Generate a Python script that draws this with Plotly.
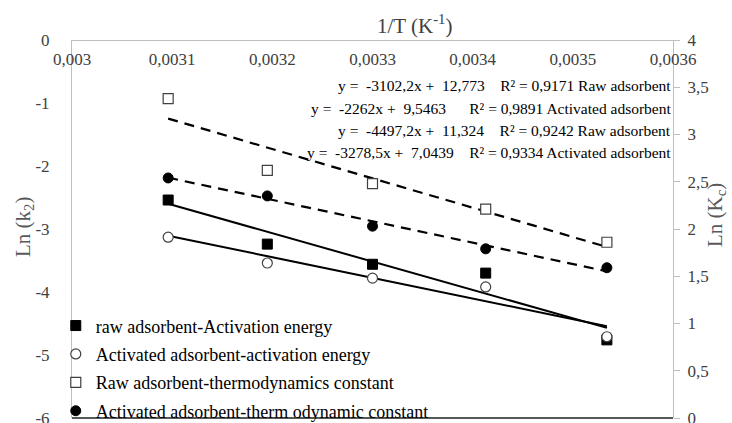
import plotly.graph_objects as go

# ---- data ----
inv_T = [0.003096, 0.003195, 0.0033, 0.003413, 0.003534]
raw_lnk2 = [-2.54, -3.24, -3.56, -3.70, -4.76]
act_lnk2 = [-3.13, -3.54, -3.78, -3.92, -4.71]
raw_lnKc = [3.38, 2.62, 2.48, 2.21, 1.86]
act_lnKc = [2.54, 2.35, 2.03, 1.79, 1.59]

# trendline coefficients (slope, intercept) read from the equations
fit_raw_k2 = (-4497.2, 11.324)
fit_act_k2 = (-3278.5, 7.0439)
fit_raw_Kc = (-3102.2, 12.773)
fit_act_Kc = (-2262.0, 9.5463)

NB = "\u00a0"
equations = [
    f"y{NB}={NB}{NB}-3102,2x{NB}+{NB}{NB}12,773{NB}{NB}{NB}{NB}R²{NB}={NB}0,9171 Raw adsorbent",
    f"y{NB}={NB}{NB}-2262x{NB}+{NB}{NB}9,5463{NB}{NB}{NB}{NB}{NB}{NB}R²{NB}={NB}0,9891 Activated adsorbent",
    f"y{NB}={NB}{NB}-4497,2x{NB}+{NB}{NB}11,324{NB}{NB}{NB}{NB}R²{NB}={NB}0,9242 Raw adsorbent",
    f"y{NB}={NB}{NB}-3278,5x{NB}+{NB}{NB}7,0439{NB}{NB}{NB}{NB}R²{NB}={NB}0,9334 Activated adsorbent",
]

x_ticks = [0.003, 0.0031, 0.0032, 0.0033, 0.0034, 0.0035, 0.0036]
x_ticktext = ["0,003", "0,0031", "0,0032", "0,0033", "0,0034", "0,0035", "0,0036"]
yl_ticks = [0, -1, -2, -3, -4, -5, -6]
yl_ticktext = ["0", "-1", "-2", "-3", "-4", "-5", "-6"]
yr_ticks = [0, 0.5, 1, 1.5, 2, 2.5, 3, 3.5, 4]
yr_ticktext = ["0", "0,5", "1", "1,5", "2", "2,5", "3", "3,5", "4"]

legend_names = [
    "raw adsorbent-Activation energy",
    "Activated adsorbent-activation energy",
    "Raw adsorbent-thermodynamics constant",
    "Activated adsorbent-therm odynamic constant",
]

FONT = "Liberation Serif"
fig = go.Figure()

x_ends = [inv_T[0], inv_T[-1]]


def line_vals(fit):
    return [fit[0] * x + fit[1] for x in x_ends]


# trend lines
fig.add_trace(go.Scatter(x=x_ends, y=line_vals(fit_raw_k2), mode="lines",
                         line=dict(color="black", width=2), showlegend=False, yaxis="y"))
fig.add_trace(go.Scatter(x=x_ends, y=line_vals(fit_act_k2), mode="lines",
                         line=dict(color="black", width=2), showlegend=False, yaxis="y"))
fig.add_trace(go.Scatter(x=x_ends, y=line_vals(fit_raw_Kc), mode="lines",
                         line=dict(color="black", width=2.2, dash="10px,7px"), showlegend=False, yaxis="y2"))
fig.add_trace(go.Scatter(x=x_ends, y=line_vals(fit_act_Kc), mode="lines",
                         line=dict(color="black", width=2.2, dash="10px,7px"), showlegend=False, yaxis="y2"))

# markers
fig.add_trace(go.Scatter(x=inv_T, y=raw_lnk2, mode="markers", name=legend_names[0],
                         legendgroup="a", yaxis="y",
                         marker=dict(symbol="square", size=10, color="black",
                                     line=dict(color="black", width=1))))
fig.add_trace(go.Scatter(x=inv_T, y=act_lnk2, mode="markers", name=legend_names[1],
                         legendgroup="b", yaxis="y",
                         marker=dict(symbol="circle", size=10, color="white",
                                     line=dict(color="#404040", width=1.2))))
fig.add_trace(go.Scatter(x=inv_T, y=raw_lnKc, mode="markers", name=legend_names[2],
                         legendgroup="c", yaxis="y2",
                         marker=dict(symbol="square", size=10, color="white",
                                     line=dict(color="#404040", width=1.2))))
fig.add_trace(go.Scatter(x=inv_T, y=act_lnKc, mode="markers", name=legend_names[3],
                         legendgroup="d", yaxis="y2",
                         marker=dict(symbol="circle", size=10, color="black",
                                     line=dict(color="black", width=1))))

annotations = []
eq_y = [85, 108, 130, 152]
for txt, py in zip(equations, eq_y):
    annotations.append(dict(text=txt, xref="paper", yref="paper",
                            x=1.0, y=(418 - py) / 378, xanchor="right", yanchor="middle",
                            showarrow=False, font=dict(family=FONT, size=15.5, color="black")))
annotations.append(dict(text="1/T (K<sup>-1</sup>)", xref="paper", yref="paper",
                        x=(414 - 72) / 601, y=(418 - 24) / 378, xanchor="center", yanchor="middle",
                        showarrow=False, font=dict(family=FONT, size=21, color="#404040")))
annotations.append(dict(text="Ln (k<sub>2</sub>)", xref="paper", yref="paper",
                        x=(24 - 72) / 601, y=(418 - 227) / 378, xanchor="center", yanchor="middle",
                        textangle=-90, showarrow=False,
                        font=dict(family=FONT, size=21, color="#595959")))
annotations.append(dict(text="Ln (K<sub>c</sub>)", xref="paper", yref="paper",
                        x=(716 - 72) / 601, y=(418 - 215) / 378, xanchor="center", yanchor="middle",
                        textangle=-90, showarrow=False,
                        font=dict(family=FONT, size=21, color="#595959")))

fig.update_layout(
    width=732, height=423,
    margin=dict(l=72, r=59, t=40, b=5, autoexpand=False),
    paper_bgcolor="white", plot_bgcolor="white",
    font=dict(family=FONT, size=17, color="#404040"),
    xaxis=dict(range=[0.003, 0.0036], side="bottom", anchor="free", position=1.0,
               tickvals=x_ticks, ticktext=x_ticktext,
               showgrid=False, zeroline=False,
               showline=True, linecolor="#bfbfbf", linewidth=1, ticks="",
               ticklabelstandoff=4, ticklabeloverflow="allow",
               tickfont=dict(family=FONT, size=17, color="#404040")),
    yaxis=dict(range=[-6, 0], tickvals=yl_ticks, ticktext=yl_ticktext, showgrid=False,
               zeroline=False, showline=True, linecolor="#bfbfbf", linewidth=1, ticks="",
               ticklabelstandoff=18, ticklabeloverflow="allow",
               tickfont=dict(family=FONT, size=17, color="#404040")),
    yaxis2=dict(range=[0, 4], overlaying="y", side="right", anchor="x",
                tickvals=yr_ticks, ticktext=yr_ticktext, showgrid=False, zeroline=False,
                showline=True, linecolor="#bfbfbf", linewidth=1, ticks="outside",
                ticklen=6, tickcolor="#bfbfbf", ticklabelstandoff=4, ticklabeloverflow="allow",
                tickfont=dict(family=FONT, size=17, color="#404040")),
    legend=dict(x=-0.027, y=-0.03, xanchor="left", yanchor="bottom", bgcolor="rgba(255,255,255,0)",
                traceorder="grouped", tracegroupgap=2, itemwidth=30,
                font=dict(family=FONT, size=18, color="black")),
    annotations=annotations,
    shapes=[dict(type="line", xref="paper", yref="paper", x0=0, x1=1, y0=0, y1=0,
                 line=dict(color="#202020", width=1.5), layer="above")],
    showlegend=True,
)

fig.write_html("out.html")
